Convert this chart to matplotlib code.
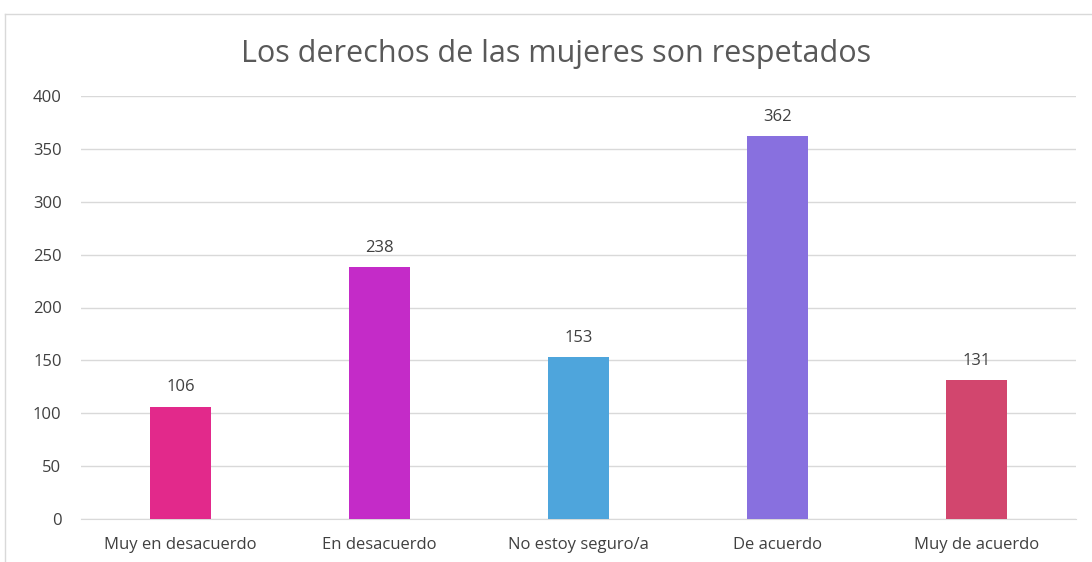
import matplotlib.pyplot as plt
from matplotlib.lines import Line2D

categories = ['Muy en desacuerdo', 'En desacuerdo', 'No estoy seguro/a', 'De acuerdo', 'Muy de acuerdo']
values = [106, 238, 153, 362, 131]
colors = ['#E2298B', '#C42BC8', '#4EA5DC', '#8870DF', '#D2466E']
title = 'Los derechos de las mujeres son respetados'

plt.rcParams['font.family'] = ['Open Sans', 'DejaVu Sans']

fig = plt.figure(figsize=(10.92, 5.62), dpi=100)
W, H = 1092, 562
# plot area in pixels: left 81, right 1076, top (y=400) 96, bottom (y=0) 519
ax = fig.add_axes([81 / W, 1 - 519 / H, (1076 - 81) / W, (519 - 96) / H])

x = range(len(categories))
bars = ax.bar(x, values, width=0.31, color=colors, zorder=3)
for i, v in enumerate(values):
    ax.text(i, v + 11, str(v), ha='center', va='bottom', fontsize=12, color='#404040')

ax.set_ylim(0, 400)
ax.set_xlim(-0.5, len(categories) - 0.5)
ax.set_yticks(range(0, 401, 50))
ax.set_xticks(list(x))
ax.set_xticklabels(categories)
ax.tick_params(axis='both', length=0, labelsize=12, labelcolor='#404040')
ax.tick_params(axis='y', pad=14)
ax.tick_params(axis='x', pad=13)
ax.grid(axis='y', color='#D9D9D9', linewidth=1, zorder=0)
for s in ['top', 'right', 'left']:
    ax.spines[s].set_visible(False)
ax.spines['bottom'].set_color('#D9D9D9')

fig.text(556 / W, 1 - 54 / H, title, ha='center', va='center', fontsize=22, color='#595959')

# chart frame (top and left edges visible)
fig.add_artist(Line2D([5 / W, 1], [1 - 14 / H, 1 - 14 / H], color='#D9D9D9', lw=1))
fig.add_artist(Line2D([5 / W, 5 / W], [0, 1 - 14 / H], color='#D9D9D9', lw=1))

fig.savefig('out.png', dpi=100)
